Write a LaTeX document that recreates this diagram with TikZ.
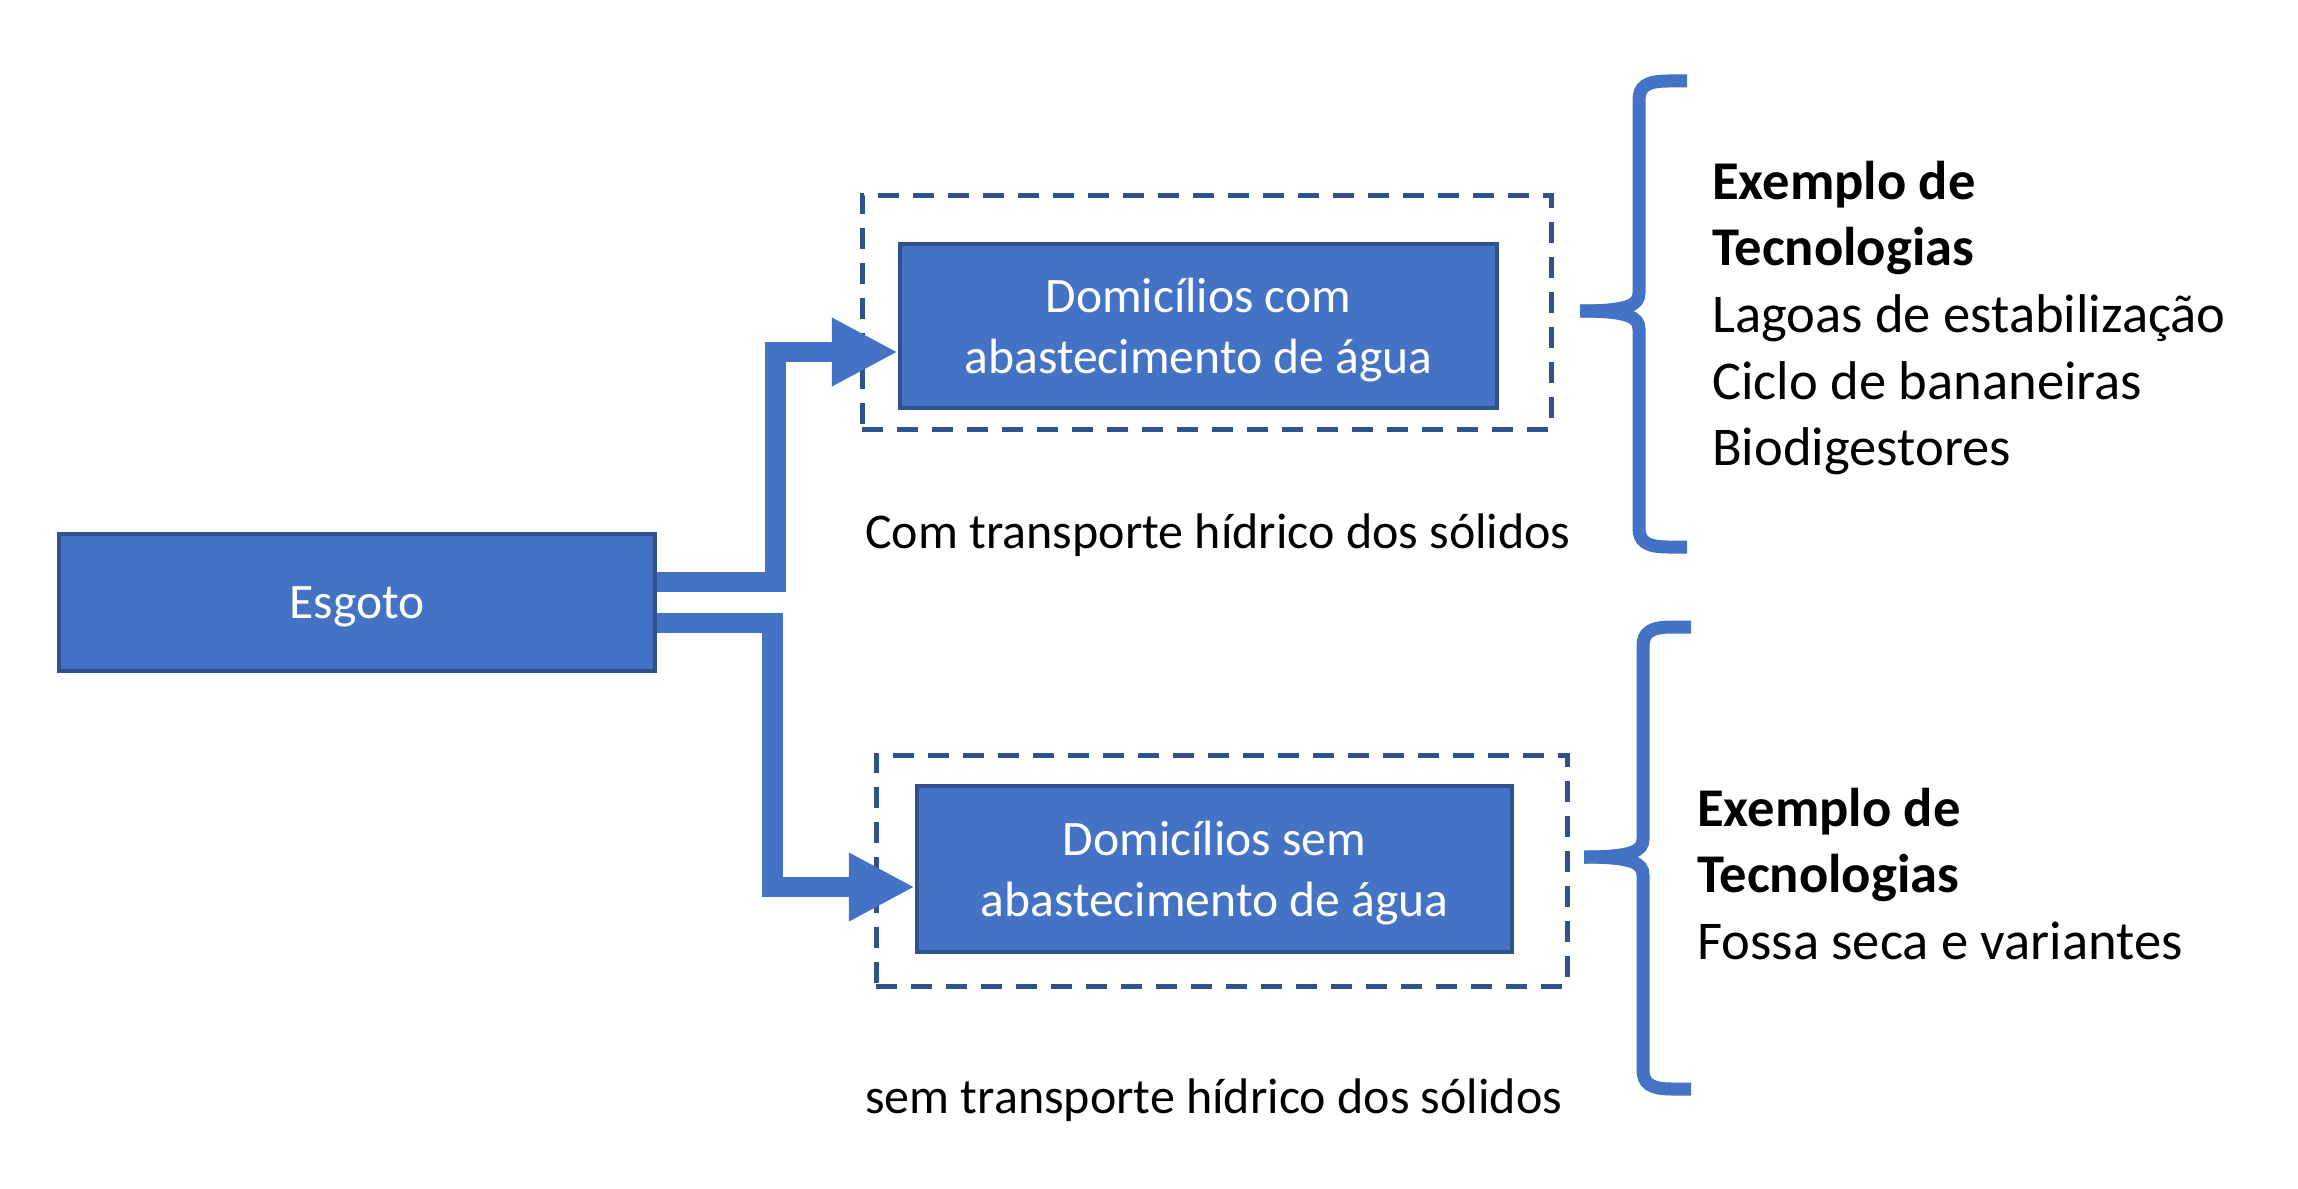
\documentclass[tikz,border=0pt]{standalone}
\usepackage{fontspec}
\setmainfont{Carlito}
\usetikzlibrary{arrows.meta}
\definecolor{fillblue}{HTML}{4472C4}
\definecolor{edgeblue}{HTML}{2F528F}
\begin{document}
\begin{tikzpicture}[x=1pt,y=-1pt,
  bluebox/.style={draw=edgeblue, fill=fillblue, line width=4.5pt, text=white, inner sep=0pt, align=center, text depth=0pt, font=\fontsize{49.6}{60.5}\selectfont},
  dashbox/.style={draw=edgeblue, line width=5pt, dash pattern=on 21pt off 14pt, inner sep=0pt},
  conn/.style={draw=fillblue, line width=20.5pt, line join=miter, -{Triangle[length=66pt,width=64pt]}},
  bracestyle/.style={draw=fillblue, line width=13pt},
  lbl/.style={font=\fontsize{50}{61}\selectfont, inner sep=0pt, text depth=0pt, anchor=west},
  techtext/.style={font=\fontsize{54.6}{66.7}\selectfont, align=left, inner sep=0pt, anchor=west}]
\useasboundingbox (0,0) rectangle (2298,1188);
% boxes
\node[bluebox, minimum width=596pt, minimum height=137pt] (esgoto) at (357,602.5) {Esgoto};
\node[dashbox, minimum width=689pt, minimum height=234pt] (frame1) at (1206.5,312) {};
\node[dashbox, minimum width=691pt, minimum height=231pt] (frame2) at (1221.5,870.5) {};
\node[bluebox, minimum width=597pt, minimum height=164pt] (dom1) at (1198.5,326) {Domicílios com\\abastecimento de água};
\node[bluebox, minimum width=595pt, minimum height=166pt] (dom2) at (1214.5,869) {Domicílios sem\\abastecimento de água};
% labels
\node[lbl] (lab1) at (865,531) {Com transporte hídrico dos sólidos};
\node[lbl] (lab2) at (865,1096) {sem transporte hídrico dos sólidos};
% connectors
\draw[conn] ([yshift=20.5pt]esgoto.east) -- ++(118,0) |- ([yshift=-26pt]dom1.west);
\draw[conn] ([yshift=-20.5pt]esgoto.east) -- ++(115,0) |- ([yshift=-18pt]dom2.west);
% braces
\draw[bracestyle] (1687,81) -- (1668,81) .. controls (1646,81) and (1639,87) .. (1639,100) -- (1639,293) .. controls (1639,305) and (1628,311) .. (1580,311);
\draw[bracestyle] (1580,311) .. controls (1628,311) and (1639,317) .. (1639,329) -- (1639,528) .. controls (1639,541) and (1646,547) .. (1668,547) -- (1687,547);
\draw[bracestyle] (1691,627) -- (1672,627) .. controls (1650,627) and (1643,633) .. (1643,646) -- (1643,839) .. controls (1643,851) and (1632,857) .. (1584,857);
\draw[bracestyle] (1584,857) .. controls (1632,857) and (1643,863) .. (1643,875) -- (1643,1070) .. controls (1643,1083) and (1650,1089) .. (1672,1089) -- (1691,1089);
% technology texts
\node[techtext] (tech1) at (1712,318) {\textbf{Exemplo de}\\\textbf{Tecnologias}\\Lagoas de estabilização\\Ciclo de bananeiras\\Biodigestores};
\node[techtext] (tech2) at (1697,874) {\textbf{Exemplo de}\\\textbf{Tecnologias}\\Fossa seca e variantes};
\end{tikzpicture}
\end{document}
